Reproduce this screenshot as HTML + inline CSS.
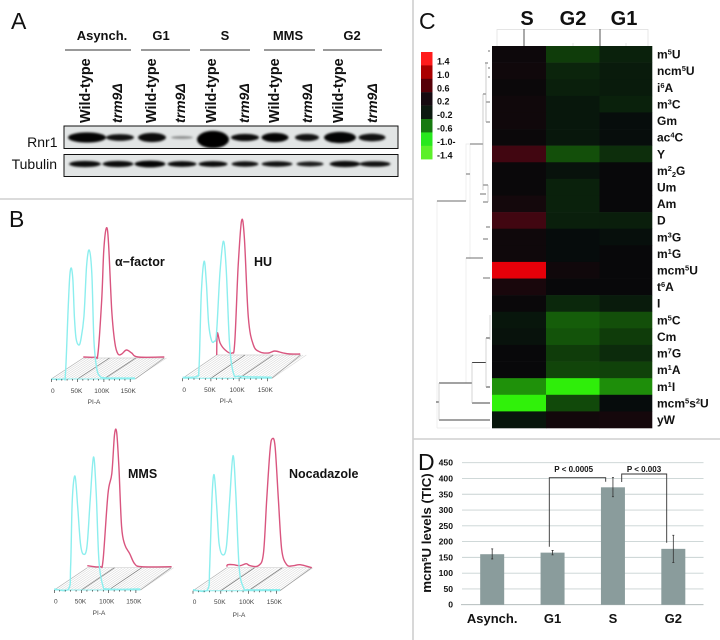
<!DOCTYPE html>
<html>
<head>
<meta charset="utf-8">
<title>Figure panels A-D</title>
<style>
html,body{margin:0;padding:0;background:#fff;width:720px;height:640px;overflow:hidden}
svg{display:block;filter:blur(0.35px)}
text{font-family:"Liberation Sans",sans-serif;fill:#111}
.b{font-weight:bold}
.v{font-weight:bold;font-size:14.4px}
.i{font-weight:bold;font-style:italic;font-size:14px}
</style>
</head>
<body>
<svg id="fig" xmlns="http://www.w3.org/2000/svg" width="720" height="640" viewBox="0 0 720 640">
  <rect width="720" height="640" fill="#fff"/>
  <g stroke="#cfcfcf" stroke-width="1.6">
    <line x1="0" y1="199" x2="413" y2="199"/>
    <line x1="413" y1="0" x2="413" y2="640"/>
    <line x1="413" y1="439" x2="720" y2="439"/>
  </g>

  <text x="11" y="29" font-size="23">A</text>
  <text x="9" y="227" font-size="23">B</text>
  <text x="419" y="29" font-size="23">C</text>
  <text x="418" y="470" font-size="23">D</text>

  <g id="blot">
    <text class="b" font-size="13" x="102" y="40" text-anchor="middle">Asynch.</text>
    <text class="b" font-size="13" x="161" y="40" text-anchor="middle">G1</text>
    <text class="b" font-size="13" x="225" y="40" text-anchor="middle">S</text>
    <text class="b" font-size="13" x="288" y="40" text-anchor="middle">MMS</text>
    <text class="b" font-size="13" x="352" y="40" text-anchor="middle">G2</text>
    <g stroke="#333" stroke-width="1">
      <line x1="65" y1="50" x2="131" y2="50"/><line x1="141" y1="50" x2="190" y2="50"/>
      <line x1="200" y1="50" x2="250" y2="50"/><line x1="264" y1="50" x2="315" y2="50"/>
      <line x1="323" y1="50" x2="382" y2="50"/>
    </g>
    <text class="v" transform="translate(90,123) rotate(-90)">Wild-type</text>
    <text class="v" transform="translate(156,123) rotate(-90)">Wild-type</text>
    <text class="v" transform="translate(216,123) rotate(-90)">Wild-type</text>
    <text class="v" transform="translate(279,123) rotate(-90)">Wild-type</text>
    <text class="v" transform="translate(343,123) rotate(-90)">Wild-type</text>
    <text class="i" transform="translate(122,123) rotate(-90)">trm9Δ</text>
    <text class="i" transform="translate(185,123) rotate(-90)">trm9Δ</text>
    <text class="i" transform="translate(249,123) rotate(-90)">trm9Δ</text>
    <text class="i" transform="translate(312,123) rotate(-90)">trm9Δ</text>
    <text class="i" transform="translate(377,123) rotate(-90)">trm9Δ</text>
    <text x="57.5" y="147" font-size="14" text-anchor="end">Rnr1</text>
    <text x="57" y="169" font-size="14" text-anchor="end">Tubulin</text>
  </g>

  <defs>
    <filter id="bandBlur" x="-30%" y="-80%" width="160%" height="260%"><feGaussianBlur stdDeviation="1"/></filter>
  </defs>

  <g id="flow">
    <text class="b" font-size="12.5" x="115" y="266">α−factor</text>
    <text class="b" font-size="12.5" x="254" y="266">HU</text>
    <text class="b" font-size="12.5" x="128" y="478">MMS</text>
    <text class="b" font-size="12.5" x="289" y="478">Nocadazole</text>
  </g>

  <g id="heat">
    <text class="b" font-size="20" x="527" y="25" text-anchor="middle">S</text>
    <text class="b" font-size="20" x="573" y="25" text-anchor="middle">G2</text>
    <text class="b" font-size="20" x="624" y="25" text-anchor="middle">G1</text>
    <g fill="none">
      <path d="M497 46V29.5H648V46M573 46V43M626 46V43" stroke="#ddd" stroke-width="0.7"/>
      <path d="M524 29V46M600 29V46" stroke="#444" stroke-width="0.9"/>
    </g>
    <g fill="none">
      <path d="M437 428V201H466V144H470V259M466 201V144M437 428H490M466 258V383" stroke="#e8e8e8" stroke-width="0.7"/>
      <path d="M488 51H490M485 63H488M488 68H490M488 77H490M483 94H486M486 102H490M486 122H490M480 194H486M483 185H488M483 202H488M470 144H483M466 174H470M437 201H466M488 239H483M486 227H490M466 258H483M483 278H490" stroke="#444" stroke-width="0.8"/>
      <path d="M483 94V190M486 63V122M488 185V202" stroke="#aaa" stroke-width="0.6"/>
      <path d="M439 383H472M472 362.500H486M472 403H490M436 402H439M439 420H490M486 387H490M486 338H490" stroke="#444" stroke-width="0.9"/>
      <path d="M439 383V420M472 362.500V403M486 338V387M490 315V340" stroke="#bbb" stroke-width="0.6"/>
    </g>
  </g>

  <g id="bars"></g>
</svg>

<script>
/* ---------- Panel A: blot band values (lane centre, width, height, darkness) ---------- */
var rnrLanes   = [87, 120, 152, 182, 213, 245, 275, 307, 340, 372];
var rnrWidths  = [38, 28, 28, 22, 32, 28, 27, 24, 32, 27];
var rnrHeights = [9, 5.5, 8, 1.6, 16, 6, 8, 6, 10, 6.5];
var rnrDark    = [0.98, 0.92, 0.95, 0.4, 1, 0.95, 0.98, 0.92, 0.98, 0.92];
var tubLanes   = [85, 118, 150, 182, 213, 245, 277, 310, 345, 375];
var tubWidths  = [32, 31, 31, 29, 29, 27, 31, 27, 31, 31];
var tubHeights = [5, 5, 5.5, 4.6, 4.6, 4.2, 4.2, 3.8, 5, 4.4];
var tubDark    = [0.95, 0.95, 0.98, 0.95, 0.95, 0.92, 0.92, 0.88, 0.95, 0.92];

/* ---------- Panel B: flow histograms (PI-A in K, count height) ---------- */
var alphaCyanPI = [0,23,27,32,35,38,41,44,47,52,56,62,67,72,77,81,86,92,105,159];
var alphaCyanCt = [0,0,6,69,102,111,99,62,41,34,39,62,112,129,106,39,12,3,1,1];
var alphaPinkPI = [0,22,28,35,39,44,48,54,60,66,73,82,92,104,154];
var alphaPinkCt = [1,1,5,58,108,130,115,48,15,4,4,8,5,1,1];
var huCyanPI = [0,25,29,33,38,42,46,51,56,60,66,72,77,83,90,102,158];
var huCyanCt = [1,2,12,85,117,95,55,38,37,45,105,137,111,35,5,2,1];
var huPinkPI = [0,1,6,15,27,32,38,44,49,56,65,77,92,103,118,130,148];
var huPinkCt = [0,22,12,5,2,12,88,134,118,38,10,3,2,4,2,1,1];
var mmsCyanPI = [0,26,30,33,38,43,48,53,60,66,72,77,82,89,99,158];
var mmsCyanCt = [1,1,23,90,114,83,47,36,43,90,133,97,30,5,1,1];
var mmsPinkPI = [0,23,29,38,45,50,54,58,63,69,78,87,100,155];
var mmsPinkCt = [2,1,8,74,94,133,135,101,41,23,14,4,1,1];
var nocCyanPI = [0,26,30,34,38,43,47,53,60,66,72,77,83,91,100,157];
var nocCyanCt = [1,1,24,91,116,81,47,36,44,91,135,97,24,3,1,1];
var nocPinkPI = [0,2,12,24,35,42,57,66,72,78,82,87,93,99,108,120,132,153];
var nocPinkCt = [1,3,3,2,4,2,2,14,68,118,129,121,68,18,3,2,3,0];
var flowTickValues = [0, 50, 100, 150];
var flowTickLabels = ['0', '50K', '100K', '150K'];

/* ---------- Panel C: heatmap ---------- */
var hmRows = ['m^5U','ncm^5U','i^6A','m^3C','Gm','ac^4C','Y','m^2_2G','Um','Am','D','m^3G','m^1G','mcm^5U','t^6A','I','m^5C','Cm','m^7G','m^1A','m^1I','mcm^5s^2U','yW'];
var hmS  = [0.03,0.05,0.02,0.05,0.05,0.02,0.34,0.01,0.01,0.07,0.34,0.04,0.04,1.32,0.1,0.01,-0.07,-0.05,0,0,-0.82,-1.4,-0.07];
var hmG2 = [-0.3,-0.16,-0.13,-0.08,-0.08,-0.08,-0.42,-0.05,-0.14,-0.14,-0.13,-0.01,-0.01,0.05,0,-0.18,-0.5,-0.44,-0.3,-0.36,-1.38,-0.38,0.06];
var hmG1 = [-0.14,-0.1,-0.1,-0.14,-0.02,-0.02,-0.22,0,0,0,-0.12,-0.03,0,0,0,-0.1,-0.42,-0.3,-0.2,-0.34,-0.8,-0.01,0.08];
var legendLabels = ['1.4','1.0','0.6','0.2','-0.2','-0.6','-1.0-','-1.4'];
var legendValues = [1.4,1.0,0.6,0.1,-0.1,-0.6,-1.1,-1.4];

/* ---------- Panel D: bars ---------- */
var barCategories = ['Asynch.','G1','S','G2'];
var barValues = [160, 165, 372, 177];
var barErrLow = [145, 158, 342, 134];
var barErrHigh = [177, 172, 403, 220];
var barYTicks = [0,50,100,150,200,250,300,350,400,450];

var NS = 'http://www.w3.org/2000/svg';
function mk(tag, attrs, parent) {
  var e = document.createElementNS(NS, tag);
  for (var k in attrs) e.setAttribute(k, attrs[k]);
  parent.appendChild(e);
  return e;
}

/* ----- Blot ----- */
var blot = document.getElementById('blot');
function drawBlot(name, y, h, lanes, widths, heights, dark, cy) {
  var g = mk('g', {}, blot);
  
  
  var bg = mk('rect', {x:64, y:y, width:334, height:h, fill:'#e2e5e5'}, g);
  
  
  var clipId = name + '-clip';
  var cp = mk('clipPath', {id:clipId}, g);
  mk('rect', {x:64, y:y, width:334, height:h}, cp);
  var inner = mk('g', {'clip-path':'url(#' + clipId + ')'}, g);
  var f = mk('g', {filter:'url(#bandBlur)'}, inner);
  lanes.forEach(function (c, i) {
    var b = mk('ellipse', {cx:c, cy:cy + (heights[i] > 12 ? 2 : 0), rx:widths[i] / 2, ry:heights[i] / 2 + 0.6, fill:'#000', opacity:dark[i]}, f);
    
    
  });
  var fr = mk('rect', {x:64, y:y, width:334, height:h, fill:'none', stroke:'#111', 'stroke-width':1}, g);
  
  
}
drawBlot('rnr1-blot', 126, 22.500, rnrLanes, rnrWidths, rnrHeights, rnrDark, 137.5);
drawBlot('tubulin-blot', 154.500, 22, tubLanes, tubWidths, tubHeights, tubDark, 164);

/* ----- Flow panels ----- */
function smoothPath(pts) {
  var d = 'M' + pts[0][0].toFixed(1) + ' ' + pts[0][1].toFixed(1);
  for (var i = 0; i < pts.length - 1; i++) {
    var p0 = pts[Math.max(0, i - 1)], p1 = pts[i], p2 = pts[i + 1], p3 = pts[Math.min(pts.length - 1, i + 2)];
    var c1x = p1[0] + (p2[0] - p0[0]) / 6, c1y = p1[1] + (p2[1] - p0[1]) / 6;
    var c2x = p2[0] - (p3[0] - p1[0]) / 6, c2y = p2[1] - (p3[1] - p1[1]) / 6;
    d += 'C' + c1x.toFixed(1) + ' ' + c1y.toFixed(1) + ' ' + c2x.toFixed(1) + ' ' + c2y.toFixed(1) + ' ' + p2[0].toFixed(1) + ' ' + p2[1].toFixed(1);
  }
  return d;
}
var flow = document.getElementById('flow');
function drawFlow(name, fx, fy, rx, ry, step, frontEnd, rearEnd, cPI, cCt, pPI, pCt, labelY, axisLabelX, axisLabelY) {
  var sx = function (k) { return k / 50 * step; };
  var g = mk('g', {}, flow);
  
  
  var floor = mk('g', {}, g);
  
  
  var dx = rx - fx, dy = ry - fy;
  var n = Math.round(frontEnd / 3.2);
  for (var i = 1; i <= n; i++) {
    mk('line', {x1:fx + i * 3.2, y1:fy, x2:fx + i * 3.2 + dx, y2:fy + dy, stroke:'#d6d6d6', 'stroke-width':0.55}, floor);
  }
  mk('line', {x1:rx, y1:ry, x2:rx + rearEnd, y2:ry, stroke:'#cfcfcf', 'stroke-width':0.7}, floor);
  mk('line', {x1:fx, y1:fy, x2:rx, y2:ry, stroke:'#aaa', 'stroke-width':0.6}, floor);
  mk('line', {x1:fx + frontEnd, y1:fy, x2:rx + rearEnd, y2:ry, stroke:'#999', 'stroke-width':0.7}, floor);
  [50, 100].forEach(function (k) {
    mk('line', {x1:fx + sx(k), y1:fy, x2:rx + sx(k), y2:ry, stroke:'#777', 'stroke-width':0.7}, floor);
  });
  var pink = [], cyan = [];
  pPI.forEach(function (k, i) { pink.push([rx + sx(k), ry - pCt[i]]); });
  cPI.forEach(function (k, i) { cyan.push([fx + sx(k), fy - cCt[i]]); });
  var pk = mk('path', {d:smoothPath(pink), fill:'none', stroke:'#d9557f', 'stroke-width':1.4}, g);
  
  
  var cy = mk('path', {d:smoothPath(cyan), fill:'none', stroke:'#8ceeee', 'stroke-width':1.4}, g);
  
  
  var ax = mk('g', {}, g);
  
  
  mk('line', {x1:fx, y1:fy, x2:fx + frontEnd, y2:fy, stroke:'#8ceeee', 'stroke-width':1}, ax);
  for (var m = 0; m <= 150; m += 10) {
    var major = m % 50 === 0;
    mk('line', {x1:fx + sx(m), y1:fy, x2:fx + sx(m), y2:fy + (major ? 3 : 1.6), stroke:'#222', 'stroke-width':0.6}, ax);
  }
  flowTickValues.forEach(function (k, i) {
    var t = mk('text', {x:fx + sx(k) + (i === 0 ? 1.5 : i === 1 ? -1 : -2), y:labelY, 'font-size':6.5, 'text-anchor':'middle', style:'fill:#444'}, ax);
    t.textContent = flowTickLabels[i];
    
    
  });
  var t = mk('text', {x:axisLabelX, y:axisLabelY, 'font-size':6.5, 'text-anchor':'middle', style:'fill:#444'}, ax);
  t.textContent = 'PI-A';
  
  
}
drawFlow('alpha-factor-histogram', 51.3, 379, 83.3, 358, 26.3, 84, 81, alphaCyanPI, alphaCyanCt, alphaPinkPI, alphaPinkCt, 393, 94, 404);
drawFlow('hu-histogram', 182.7, 378.3, 216.7, 355, 28.2, 89, 84, huCyanPI, huCyanCt, huPinkPI, huPinkCt, 392, 226, 403);
drawFlow('mms-histogram', 54.3, 590, 87.3, 567.7, 27.2, 86, 84, mmsCyanPI, mmsCyanCt, mmsPinkPI, mmsPinkCt, 603.5, 99, 615);
drawFlow('nocadazole-histogram', 193, 590.7, 226.7, 567.7, 27.8, 87, 85, nocCyanPI, nocCyanCt, nocPinkPI, nocPinkCt, 604, 239, 617);

/* ----- Heatmap ----- */
var heat = document.getElementById('heat');
function heatColor(v) {
  var a = Math.abs(v);
  if (v >= 0) {
    return 'rgb(' + Math.round(8 + a * 168) + ',' + Math.round(8 - Math.min(a * 6, 8)) + ',' + Math.round(10 + Math.min(a * 30, 10) - a * 8) + ')';
  }
  return 'rgb(' + Math.round(6 + a * 30) + ',' + Math.round(10 + a * 165) + ',' + Math.round(10 + (a < 0.3 ? 2 : 0)) + ')';
}
function addRichLabel(t, s) {
  var parts = s.match(/\^.|_.|[^\^_]+/g);
  parts.forEach(function (p) {
    var ts = document.createElementNS(NS, 'tspan');
    if (p.charAt(0) === '^') {
      ts.textContent = p.charAt(1);
      ts.setAttribute('font-size', '7.5');
      ts.setAttribute('dy', '-4');
      t.appendChild(ts);
      t._shift = 4;
    } else if (p.charAt(0) === '_') {
      ts.textContent = p.charAt(1);
      ts.setAttribute('font-size', '7.5');
      ts.setAttribute('dy', '6');
      t.appendChild(ts);
      t._shift = -2;
    } else {
      ts.textContent = p;
      if (t._shift) ts.setAttribute('dy', t._shift);
      t._shift = 0;
      t.appendChild(ts);
    }
  });
}
var hmX = [492, 546, 599.5, 652];
var hmTop = 46, hmRowH = 382 / hmRows.length;
var hmSeries = [hmS, hmG2, hmG1];
var hmNames = ['s', 'g2', 'g1'];
hmRows.forEach(function (label, r) {
  hmSeries.forEach(function (col, c) {
    var cell = mk('rect', {x:hmX[c], y:hmTop + r * hmRowH, width:hmX[c + 1] - hmX[c] + 0.3, height:hmRowH + 0.3, fill:heatColor(col[r])}, heat);
    
    
  });
  var t = mk('text', {x:657, y:hmTop + r * hmRowH + 12.6, 'font-size':12, 'class':'b'}, heat);
  addRichLabel(t, label);
  
  
});
legendValues.forEach(function (v, i) {
  var col = v > 1.2 ? 'rgb(255,28,28)' : v > 0.9 ? 'rgb(170,0,0)' : v > 0.5 ? 'rgb(85,0,8)' : v > 0 ? 'rgb(22,10,16)' : v > -0.3 ? 'rgb(12,26,16)' : v > -0.8 ? 'rgb(22,122,16)' : v > -1.2 ? 'rgb(40,232,30)' : 'rgb(92,240,42)';
  var s = mk('rect', {x:421, y:52 + i * 13.4, width:11.5, height:13.6, fill:col}, heat);
  
  
  var t = mk('text', {x:437, y:64.5 + i * 13.4, 'font-size':9, 'class':'b'}, heat);
  t.textContent = legendLabels[i];
  
  
});

/* ----- Bar chart ----- */
var bars = document.getElementById('bars');
var plotL = 462, plotR = 703.500, y0 = 604.700, yTop = 462.700;
function yScale(v) { return y0 - v / 450 * (y0 - yTop); }
function xScale(i) { return plotL + (i + 0.5) * (plotR - plotL) / barCategories.length; }
barYTicks.forEach(function (v) {
  if (v > 0) {
    var gl = mk('line', {x1:plotL, y1:yScale(v), x2:plotR, y2:yScale(v), stroke:'#c8d2d2', 'stroke-width':0.9}, bars);
    
    
  }
  var t = mk('text', {x:453, y:yScale(v) + 3, 'font-size':8.6, 'text-anchor':'end', 'class':'b'}, bars);
  t.textContent = v;
  
  
});
var xAxis = mk('line', {x1:plotL - 1, y1:y0, x2:plotR, y2:y0, stroke:'#aab4b4', 'stroke-width':0.9}, bars);


barCategories.forEach(function (c, i) {
  var cx = xScale(i);
  var b = mk('rect', {x:cx - 12, y:yScale(barValues[i]), width:24, height:y0 - yScale(barValues[i]), fill:'#8a9c9c'}, bars);
  
  
  var e = mk('path', {d:'M' + (cx - 1) + ' ' + yScale(barErrHigh[i]) + 'H' + (cx + 1) + 'M' + cx + ' ' + yScale(barErrHigh[i]) + 'V' + yScale(barErrLow[i]) + 'M' + (cx - 1) + ' ' + yScale(barErrLow[i]) + 'H' + (cx + 1), stroke:'#333', 'stroke-width':0.8, fill:'none'}, bars);
  
  
  var t = mk('text', {x:cx, y:623, 'font-size':13, 'text-anchor':'middle', 'class':'b'}, bars);
  t.textContent = c;
  
  
});
var yTitle = mk('text', {transform:'translate(431,533) rotate(-90)', 'font-size':13.3, 'text-anchor':'middle', 'class':'b'}, bars);
addRichLabel(yTitle, 'mcm^5U levels (TIC)');


var br1 = mk('path', {d:'M549.3 546.700V477.700H605.700V481.700', fill:'none', stroke:'#333', 'stroke-width':0.9}, bars);


var br2 = mk('path', {d:'M621.700 482V474H666.700V542.700', fill:'none', stroke:'#333', 'stroke-width':0.9}, bars);


var p1 = mk('text', {x:573.700, y:472, 'font-size':8, 'text-anchor':'middle', 'class':'b'}, bars);
p1.textContent = 'P < 0.0005';


var p2 = mk('text', {x:644, y:472, 'font-size':8, 'text-anchor':'middle', 'class':'b'}, bars);
p2.textContent = 'P < 0.003';


</script>
</body>
</html>
